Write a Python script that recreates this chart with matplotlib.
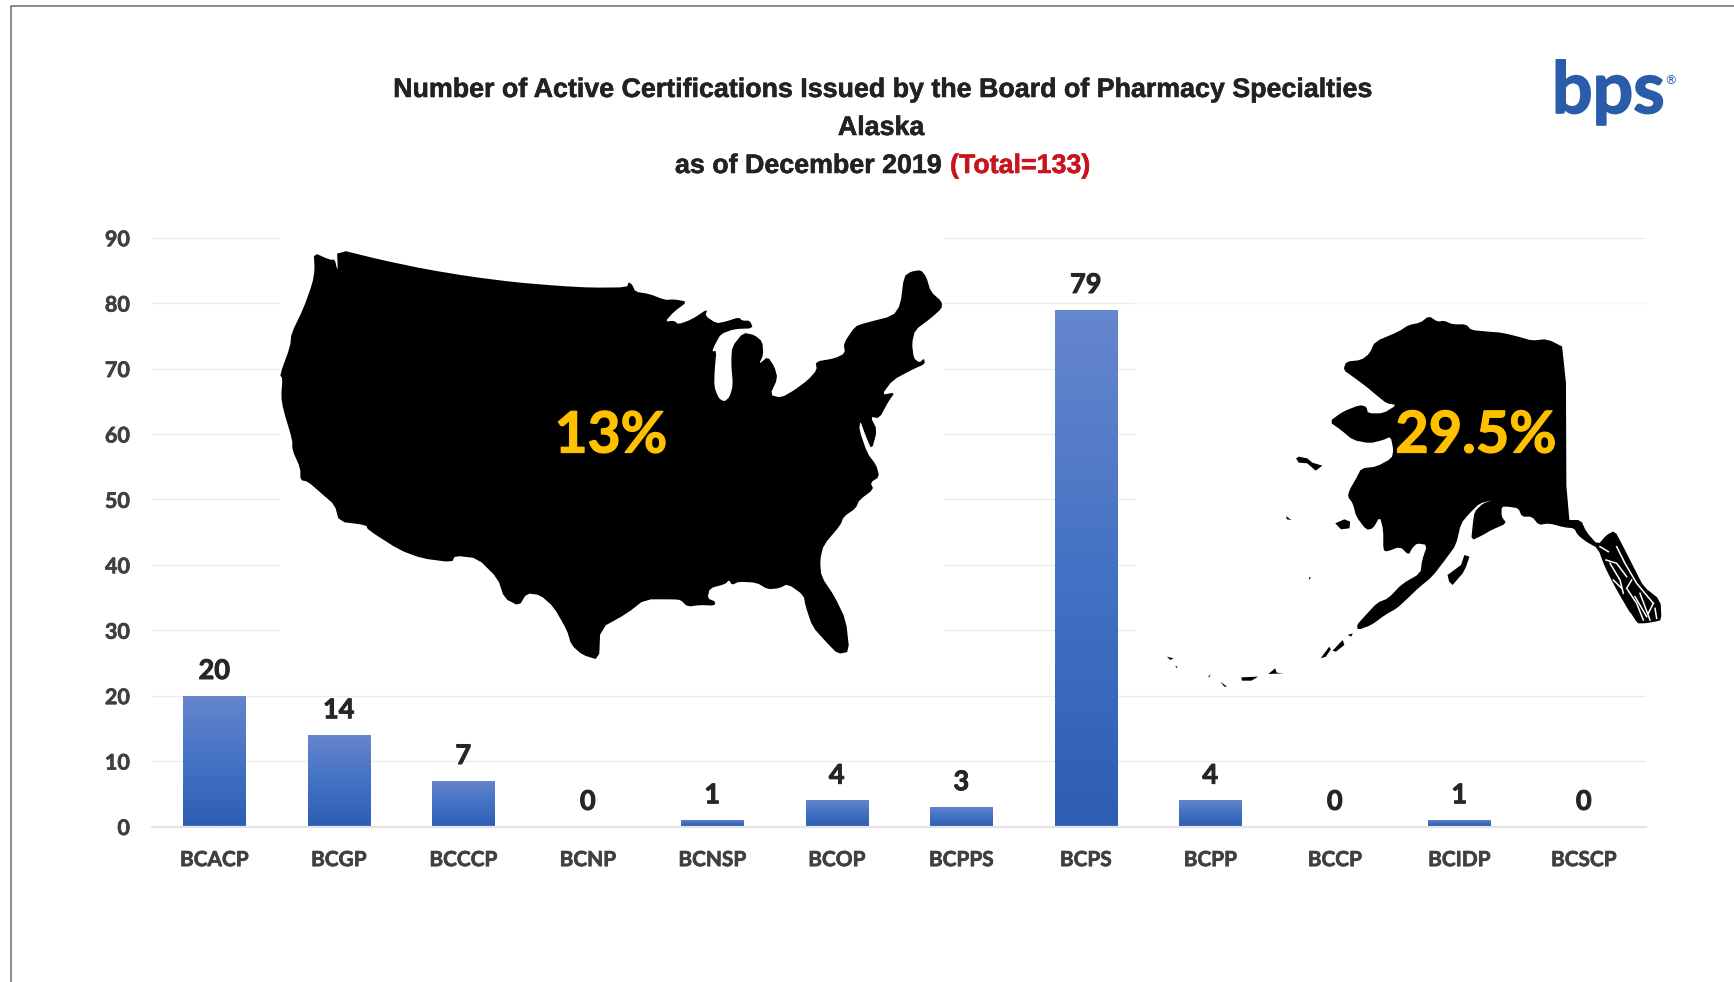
import matplotlib
matplotlib.use('Agg')
import matplotlib.pyplot as plt
import matplotlib.patheffects as pe
from matplotlib.colors import LinearSegmentedColormap
from matplotlib.patches import Rectangle
import numpy as np

# Data
categories = ['BCACP', 'BCGP', 'BCCCP', 'BCNP', 'BCNSP', 'BCOP', 'BCPPS', 'BCPS', 'BCPP', 'BCCP', 'BCIDP', 'BCSCP']
certifications = [20, 14, 7, 0, 1, 4, 3, 79, 4, 0, 1, 0]
y_ticks = [0, 10, 20, 30, 40, 50, 60, 70, 80, 90]

# Map outlines (crop coordinates)
us_outline = [(98,68),(135,90),(145,88),(152,126),(150,57),(250,90),(350,118),(450,140),(550,157),(650,168),
    (720,173),(800,172),(803,156),(812,165),(818,185),(850,192),(885,210),(905,208),(935,215),(905,245),
    (885,275),(905,272),(915,283),(945,268),(980,237),(975,258),(1000,280),(1020,275),(1050,262),(1058,272),
    (1075,272),(1082,295),(1040,297),(1010,312),(998,340),(990,365),(1000,362),(996,420),(995,470),(1005,505),
    (1018,515),(1030,500),(1037,465),(1033,400),(1035,350),(1060,308),(1085,315),(1103,335),(1105,375),(1095,403),
    (1115,380),(1130,410),(1137,445),(1120,495),(1145,503),(1175,480),(1205,450),(1225,420),(1222,395),(1265,385),
    (1288,370),(1285,340),(1310,290),(1330,280),(1395,258),(1412,225),(1420,140),(1435,125),(1458,120),(1470,140),
    (1480,185),(1505,215),(1505,235),(1480,265),(1445,300),(1438,340),(1442,385),(1455,398),(1465,385),(1467,402),
    (1440,418),(1395,450),(1370,495),(1400,487),(1385,515),(1365,565),(1345,560),(1360,600),(1348,660),(1335,620),
    (1322,572),(1320,600),(1338,670),(1358,705),(1365,740),(1345,758),(1352,778),(1320,810),(1312,835),(1285,860),
    (1278,885),(1240,945),(1232,990),(1235,1040),(1265,1100),(1290,1170),(1298,1265),(1272,1272),(1245,1235),(1215,1190),
    (1200,1130),(1195,1095),(1160,1062),(1140,1075),(1115,1078),(1090,1058),(1050,1055),(1035,1065),(1028,1050),(1020,1062),
    (985,1075),(980,1105),(998,1115),(995,1127),(965,1125),(935,1130),(920,1110),(905,1108),(840,1108),(800,1150),
    (740,1195),(737,1290),(700,1275),(675,1245),(665,1200),(635,1130),(605,1095),(575,1090),(558,1128),(525,1105),
    (510,1045),(465,985),(415,977),(407,997),(340,985),(290,960),(220,900),(215,885),(155,875),(145,825),
    (115,790),(85,755),(68,750),(68,715),(50,660),(50,630),(30,540),(25,500),(28,445),(22,435),
    (45,350),(48,310),(75,235),(95,160),(100,120)]

ak_outline = [(825,78),(850,95),(870,92),(895,103),(935,103),(950,120),(1000,125),(1040,128),(1090,140),(1130,152),
    (1175,147),(1230,175),(1232,690),(1275,690),(1290,725),(1325,765),(1350,735),(1375,722),(1400,770),(1435,840),
    (1460,890),(1510,930),(1513,990),(1495,995),(1465,1000),(1440,1000),(1415,960),(1375,890),(1345,830),(1325,775),
    (1290,755),(1265,735),(1255,715),(1225,712),(1180,700),(1150,705),(1130,680),(1100,680),(1090,655),(1060,650),
    (1040,650),(1040,680),(1055,700),(1010,720),(985,735),(950,752),(955,700),(960,665),(985,640),(1015,630),
    (975,640),(945,670),(920,700),(905,765),(880,800),(835,860),(795,893),(755,932),(730,955),(695,975),
    (655,1005),(615,1020),(612,1005),(632,982),(672,938),(705,925),(745,882),(800,850),(805,810),(820,765),
    (790,760),(775,775),(765,795),(740,770),(700,785),(690,780),(690,720),(680,680),(660,715),(640,720),
    (610,680),(600,640),(585,620),(590,600),(610,565),(625,535),(670,530),(715,505),(720,480),(712,440),
    (690,450),(650,460),(600,450),(565,420),(530,395),(570,365),(620,345),(640,350),(645,370),(690,370),
    (730,345),(700,340),(675,320),(640,290),(600,260),(572,240),(580,215),(625,210),(650,190),(665,155),
    (735,125),(765,105),(800,98)]

ak_islands = [
    [(432,505),(440,518),(465,520),(490,542),(510,527),(480,518),(465,505),(440,500)],
    [(548,700),(575,688),(592,695),(590,715),(565,718)],
    [(402,678),(418,690),(405,688)],
    [(880,855),(900,840),(920,825),(930,795),(945,800),(935,830),(925,850),(895,885),(885,875)],
    [(505,1105),(530,1070),(535,1078),(520,1100)],
    [(540,1082),(570,1050),(575,1065),(550,1085)],
    [(350,1152),(370,1135),(375,1148),(395,1150)],
    [(270,1162),(320,1160),(300,1172),(272,1172)],
    [(50,1100),(70,1105),(60,1110)],
    [(208,1175),(228,1190),(220,1190)],
    [(172,1160),(180,1152),(175,1162)],
    [(585,1035),(600,1030),(595,1040)],
    [(75,1128),(82,1130),(78,1134)],
    [(470,862),(476,862),(472,870)],
]

# white fjords in the panhandle, coordinates of a second crop
ak_slits = [[(498,240),(530,250),(560,290)],
            [(530,200),(555,250),(590,310),(640,370)],
            [(585,350),(620,410)],
            [(575,300),(560,325),(590,370),(610,420)],
            [(510,250),(540,300),(550,340)],
            [(640,370),(625,400)],
            [(480,200),(505,215)],
            [(600,340),(630,420)],
            [(645,385),(650,415)],
            [(520,300),(545,325)],
            [(570,400),(590,430)]]


def soften(points):
    # one pass of corner cutting so the outlines are less angular
    pts = np.array(points, dtype=float)
    nxt = np.roll(pts, -1, axis=0)
    out = np.empty((len(pts) * 2, 2))
    out[0::2] = 0.8 * pts + 0.2 * nxt
    out[1::2] = 0.2 * pts + 0.8 * nxt
    return out


def heavy(width, color):
    return [pe.withStroke(linewidth=width, foreground=color)]


fig = plt.figure(figsize=(17.34, 9.82), dpi=100, facecolor='white')
ax = fig.add_axes([152 / 1734, (982 - 826.5) / 982, (1646 - 152) / 1734, (826.5 - 237.7) / 982])
overlay = fig.add_axes([0, 0, 1, 1], facecolor='none')
overlay.set_xlim(0, 1734)
overlay.set_ylim(982, 0)
overlay.axis('off')

# Bars with a vertical gradient
blues = LinearSegmentedColormap.from_list('bar', ['#6686cd', '#4472c4', '#2e5eb4'])
gradient = np.linspace(0, 1, 100).reshape(-1, 1)
x = np.arange(len(categories))
bars = ax.bar(x, certifications, width=0.5, color='#4472c4', linewidth=0, zorder=2)
for bar, value in zip(bars, certifications):
    if value > 0:
        im = ax.imshow(gradient, extent=[bar.get_x(), bar.get_x() + bar.get_width(), 0, value],
                       aspect='auto', cmap=blues, zorder=2.5)
        im.set_clip_path(bar)
    ax.annotate(str(value), (bar.get_x() + bar.get_width() / 2, value), xytext=(0, 12), textcoords='offset points',
                ha='center', va='baseline', family='Lato', fontweight='bold', fontsize=19.5, color='#262626',
                path_effects=heavy(0.7, '#262626'))

ax.set_xlim(-0.5, 11.5)
ax.set_ylim(0, 90)
ax.set_xticks(x)
ax.set_xticklabels(categories, family='Lato', fontweight='bold', fontsize=15, color='#404040',
                   path_effects=heavy(0.5, '#404040'))
ax.set_yticks(y_ticks)
ax.set_yticklabels(y_ticks, family='Lato', fontweight='bold', fontsize=15.5, color='#404040',
                   path_effects=heavy(0.5, '#404040'))
ax.tick_params(length=0)
ax.tick_params(axis='x', pad=17)
ax.tick_params(axis='y', pad=16)
for side in ['top', 'right', 'left']:
    ax.spines[side].set_visible(False)
ax.spines['bottom'].set_color('#e4e4e4')
ax.spines['bottom'].set_linewidth(1.6)
ax.set_axisbelow(True)
ax.yaxis.grid(True, color='#ececec', linewidth=1)

# The pasted maps sit on white boxes that hide part of the grid
ax.add_patch(Rectangle((280, 230), 663, 430, transform=overlay.transData, color='white', zorder=1))
ax.add_patch(Rectangle((1135, 296), 515, 374, transform=overlay.transData, color='white', zorder=1))
overlay.plot([1135, 1646], [303.3, 303.3], color='#f8f8f8', lw=1)

us = soften(us_outline)
overlay.fill(us[:, 0] / 2.24 + 270, us[:, 1] / 3 + 230, color='black', lw=0)
ak = soften(ak_outline)
overlay.fill(ak[:, 0] / 2.958 + 1150, ak[:, 1] / 3 + 290, color='black', lw=0)
for island in ak_islands:
    pts = np.array(island, dtype=float)
    overlay.fill(pts[:, 0] / 2.958 + 1150, pts[:, 1] / 3 + 290, color='black', lw=0)
for slit in ak_slits:
    pts = np.array(slit, dtype=float)
    overlay.plot(pts[:, 0] / 3 + 1440, pts[:, 1] / 3 + 480, color='white', lw=1.1)

overlay.text(611, 436, '13%', family='Lato', fontweight='bold', fontsize=41, color='#ffc000', ha='center', va='center',
             path_effects=heavy(0.9, '#ffc000'))
overlay.text(1476, 436, '29.5%', family='Lato', fontweight='bold', fontsize=41.5, color='#ffc000', ha='center', va='center',
             path_effects=heavy(0.9, '#ffc000'))

# Title
title_font = dict(family='Liberation Sans', fontweight='bold', fontsize=19.3)
overlay.text(881, 90, 'Number of Active Certifications Issued by the Board of Pharmacy Specialties',
             color='#222222', ha='center', va='center', path_effects=heavy(0.4, '#222222'), **title_font)
overlay.text(881, 128, 'Alaska', color='#222222', ha='center', va='center', path_effects=heavy(0.4, '#222222'), **title_font)
overlay.text(675, 166, 'as of December 2019', color='#222222', ha='left', va='center',
             path_effects=heavy(0.4, '#222222'), **title_font)
overlay.text(950, 166, '(Total=133)', color='#c8141e', ha='left', va='center',
             path_effects=heavy(0.4, '#c8141e'), **title_font)

# Logo
overlay.text(1552, 113, 'bps', family='Lato', fontweight='bold', fontsize=51.5, color='#2a5caa', ha='left', va='baseline',
             path_effects=heavy(1.2, '#2a5caa'))
overlay.text(1671, 81, '®', family='DejaVu Sans', fontsize=9, color='#2a5caa', ha='center', va='center')

# Slide border
overlay.plot([10.5, 10.5, 1734], [982, 5.5, 5.5], color='#6b6b6b', lw=1.1)

fig.savefig('out.png', dpi=100)
